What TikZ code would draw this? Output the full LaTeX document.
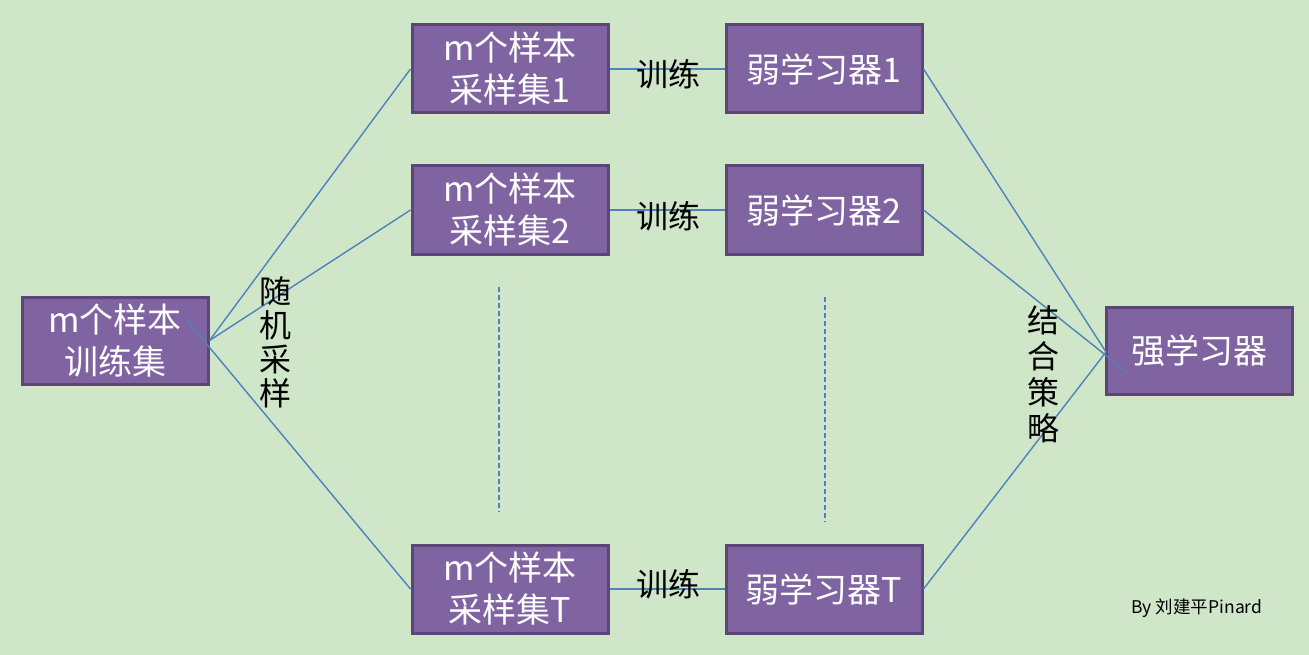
\documentclass[tikz,border=0pt]{standalone}
\usepackage{fontspec}
\newfontfamily\cjk{Noto Sans CJK SC}
\definecolor{bg}{RGB}{207,230,201}
\definecolor{boxfill}{RGB}{128,100,162}
\definecolor{boxline}{RGB}{92,70,120}
\definecolor{conn}{RGB}{79,129,189}
\tikzset{
  pbox/.style={draw=boxline, line width=3pt, fill=boxfill, text=white, inner sep=0pt,
    minimum width=#1, align=center, font=\cjk\fontsize{34}{42}\selectfont},
  pbox/.default=196pt,
  conline/.style={draw=conn, line width=1.4pt},
  dashline/.style={draw=conn, line width=1.2pt, dash pattern=on 5pt off 3pt},
  lbl/.style={text=black, inner sep=0pt, align=center, font=\cjk\fontsize{32}{34}\selectfont},
}
\begin{document}
\begin{tikzpicture}[x=1pt,y=-1pt]
\fill[bg] (0,0) rectangle (1309,655);
\useasboundingbox (0,0) rectangle (1309,655);

\node[pbox=186pt, minimum height=87pt] (ts) at (115,340.5) {m个样本\\训练集};
\node[pbox, minimum height=88pt] (s1) at (510,69) {m个样本\\采样集1};
\node[pbox, minimum height=88pt] (s2) at (510,210) {m个样本\\采样集2};
\node[pbox, minimum height=88pt] (sT) at (510,589) {m个样本\\采样集T};
\node[pbox, minimum height=88pt] (w1) at (824,69) {弱学习器1};
\node[pbox, minimum height=88pt] (w2) at (824,210) {弱学习器2};
\node[pbox, minimum height=88pt] (wT) at (824,589) {弱学习器T};
\node[pbox=186pt, minimum height=87pt] (st) at (1199,350.5) {强学习器};

\coordinate (tsin) at (185,318);
\coordinate (stin) at (1128,373);
\coordinate (stj) at (1106,352);

\draw[conline] (ts.east) -- (s1.west);
\draw[conline] (ts.east) -- (s2.west);
\draw[conline] (tsin) -- (sT.west);
\draw[conline] (s1.east) -- (w1.west);
\draw[conline] (s2.east) -- (w2.west);
\draw[conline] (sT.east) -- (wT.west);
\draw[conline] (w1.east) -- (stj);
\draw[conline] (w2.east) -- (stin);
\draw[conline] (wT.east) -- (stj);

\coordinate (d1a) at (499,287);
\coordinate (d1b) at (499,512);
\coordinate (d2a) at (825,297);
\coordinate (d2b) at (825,522);
\draw[dashline] (d1a) -- (d1b);
\draw[dashline] (d2a) -- (d2b);

\node[lbl] (t1) at (668,74) {训练};
\node[lbl] (t2) at (668,216) {训练};
\node[lbl] (tT) at (668,584) {训练};
\node[lbl] (rs) at (275,342) {随\\机\\采\\样};
\node[lbl, font=\cjk\fontsize{32}{36}\selectfont] (cs) at (1043,374) {结\\合\\策\\略};
\node[inner sep=0pt, font=\cjk\fontsize{17.5}{19}\selectfont] (by) at (1197,608) {By 刘建平Pinard};
\end{tikzpicture}
\end{document}
